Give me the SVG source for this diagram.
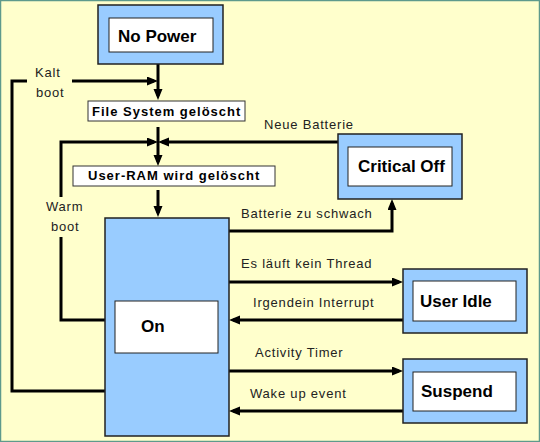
<svg xmlns="http://www.w3.org/2000/svg" width="540" height="442" viewBox="0 0 540 442">
<defs>
<marker id="ah" markerUnits="userSpaceOnUse" markerWidth="11" markerHeight="10" refX="7" refY="4.5" orient="auto">
<path d="M0,0 L11,4.5 L0,9 z" fill="#000"/>
</marker>
<style>
.outer{fill:#99CCFF;stroke:#222;stroke-width:1.5}
.inner{fill:#fff;stroke:#222;stroke-width:1}
.box{fill:#fff;stroke:#333;stroke-width:1}
.title{font-family:"Liberation Sans",Arial,sans-serif;font-weight:bold;font-size:17px;fill:#000}
.step{font-family:"Liberation Sans",Arial,sans-serif;font-weight:bold;font-size:13px;letter-spacing:1px;fill:#000}
.lbl{font-family:"Liberation Sans",Arial,sans-serif;font-size:13px;letter-spacing:0.8px;fill:#222}
.ln{fill:none;stroke:#000;stroke-width:3}
</style>
</defs>
<rect x="0.5" y="0.5" width="539" height="441" fill="#FFFFCC" stroke="#5E9A8C" stroke-width="1.5"/>

<g id="connectors">
<path class="ln" d="M158,64 V96" marker-end="url(#ah)"/>
<path class="ln" d="M105,391 H12 V81 H27 M72,81 H154" marker-end="url(#ah)"/>
<path class="ln" d="M158,127 V162" marker-end="url(#ah)"/>
<path class="ln" d="M105,320 H61 V237 M61,197 V142 H154" marker-end="url(#ah)"/>
<path class="ln" d="M338,142 H162" marker-end="url(#ah)"/>
<path class="ln" d="M158,190 V213" marker-end="url(#ah)"/>
<path class="ln" d="M229,231 H392 V203" marker-end="url(#ah)"/>
<path class="ln" d="M229,282 H399" marker-end="url(#ah)"/>
<path class="ln" d="M403,320 H233" marker-end="url(#ah)"/>
<path class="ln" d="M229,371 H399" marker-end="url(#ah)"/>
<path class="ln" d="M403,411 H233" marker-end="url(#ah)"/>
<text class="lbl" x="35" y="77">Kalt</text>
<text class="lbl" x="36" y="97">boot</text>
<text class="lbl" x="46" y="211">Warm</text>
<text class="lbl" x="51" y="231">boot</text>
<text class="lbl" x="264" y="129">Neue Batterie</text>
<text class="lbl" x="241" y="218">Batterie zu schwach</text>
<text class="lbl" x="241" y="268">Es läuft kein Thread</text>
<text class="lbl" x="253" y="307">Irgendein Interrupt</text>
<text class="lbl" x="255" y="357">Activity Timer</text>
<text class="lbl" x="250" y="398">Wake up event</text>
</g>

<g id="no-power">
<rect class="outer" x="98" y="5" width="125" height="59"/>
<rect class="inner" x="109" y="18" width="104" height="34"/>
<text class="title" x="118" y="42">No Power</text>
</g>

<g id="file-system">
<rect class="box" x="88" y="101" width="157" height="20"/>
<text class="step" x="92" y="116">File System gelöscht</text>
</g>

<g id="user-ram">
<rect class="box" x="73" y="166" width="202" height="20"/>
<text class="step" x="88" y="180">User-RAM wird gelöscht</text>
</g>

<g id="critical-off">
<rect class="outer" x="338" y="134" width="124" height="65"/>
<rect class="inner" x="348" y="147" width="104" height="39"/>
<text class="title" x="358" y="172">Critical Off</text>
</g>

<g id="on">
<rect class="outer" x="105" y="218" width="124" height="218"/>
<rect class="inner" x="115" y="301" width="103" height="52"/>
<text class="title" x="141" y="332">On</text>
</g>

<g id="user-idle">
<rect class="outer" x="403" y="269" width="124" height="64"/>
<rect class="inner" x="413" y="281" width="103" height="40"/>
<text class="title" x="420" y="307">User Idle</text>
</g>

<g id="suspend">
<rect class="outer" x="403" y="359" width="124" height="64"/>
<rect class="inner" x="413" y="372" width="103" height="39"/>
<text class="title" x="421" y="397">Suspend</text>
</g>
</svg>
